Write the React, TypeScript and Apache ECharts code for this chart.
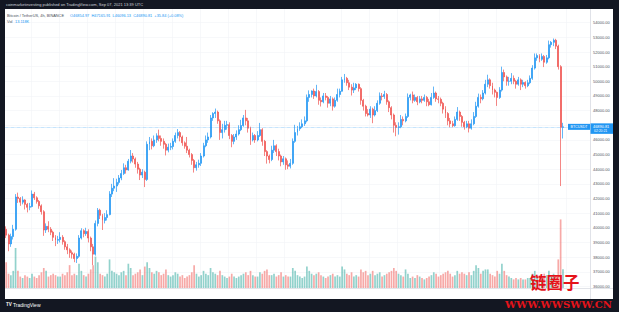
import React, { useEffect, useRef } from "react";
import * as echarts from "echarts";

// ---- data (4h candles, BTC/USDT, Binance) ----
const startTimeUTC = Date.UTC(2021, 6, 30, 4); // first candle: Jul 30 04:00 UTC
const barHours = 4;
const padBars = 11; // empty bars to the right (TradingView right offset)

const firstOpen = 39900;

const closes = [
  39500, 38900, 39400, 39900, 42100,
  42000, 41750, 41900, 41600, 41400, 41450,
  42300, 42050, 41800, 41500, 41100, 39850,
  40100, 39900, 39700, 39350, 39150, 39200,
  39350, 39050, 38700, 38500, 38300, 38200,
  37900, 38050, 39300, 39800, 39600, 39750,
  39300, 38700, 38200, 40300, 41200, 40850,
  40500, 40700, 40900, 42300, 42700, 42850,
  43100, 43400, 43700, 44100, 43950, 44550,
  44900, 44700, 44350, 44000, 43600, 43800,
  43300, 45700, 45900, 45600, 46000, 46280,
  46100, 45900, 45700, 45300, 45500, 45550,
  45900, 46300, 46500, 46200, 45800, 45570,
  45300, 45000, 44600, 44100, 44300, 44400,
  44900, 45600, 46000, 46200, 47500, 47800,
  47900, 47300, 46500, 46700, 47000, 47040,
  46300, 45900, 46200, 46400, 46700, 46980,
  47500, 47300, 46800, 46000, 46300, 46000,
  46300, 46700, 45900, 45200, 44900, 44660,
  45300, 45600, 45200, 44900, 44500, 44710,
  44300, 44200, 44400, 45900, 46500, 46760,
  46900, 47100, 47300, 48900, 49100, 49340,
  49000, 49300, 48700, 48600, 49000, 48900,
  48500, 48800, 48300, 48700, 49100, 49320,
  50100, 50200, 49900, 49600, 49400, 49550,
  49800, 49500, 48700, 48300, 47800, 47700,
  48100, 47700, 48000, 48500, 49000, 48960,
  49100, 48600, 48200, 47700, 47000, 46850,
  46900, 47400, 47300, 47600, 48900, 49070,
  48700, 48900, 48600, 48800, 48700, 48900,
  48600, 48400, 48900, 49200, 48800, 48770,
  48500, 48100, 47800, 47300, 47100, 46970,
  47400, 47900, 47600, 47200, 46900, 47100,
  46800, 47100, 47600, 48300, 48900, 48810,
  49200, 49800, 50100, 49700, 49400, 49250,
  48900, 49400, 50600, 50300, 50000, 50000,
  50200, 50000, 49800, 50100, 49800, 49920,
  49700, 49900, 50200, 50900, 51600, 51760,
  51500, 51700, 51300, 51600, 52500, 52660,
  52800, 52400, 51000, 46854.97, 46890.81,
];

const highs = [
  40100, 39600, 39600, 40200, 42300,
  42400, 42100, 42150, 41950, 41700, 41700,
  42550, 42450, 42150, 41900, 41600, 41200,
  40300, 40450, 40050, 39800, 39500, 39450,
  39700, 39500, 39150, 38900, 38600, 38450,
  38300, 38250, 39500, 39970, 39900, 40000,
  39900, 39400, 38900, 40500, 41350, 41300,
  40950, 41000, 41200, 42500, 43000, 43390,
  43350, 43600, 43950, 44400, 44300, 44700,
  45310, 45100, 44800, 44500, 44100, 44000,
  43900, 45900, 46200, 46100, 46300, 46450,
  46700, 46300, 46100, 45800, 45750, 45800,
  46100, 46500, 46740, 46600, 46300, 45900,
  46200, 45400, 45100, 44700, 44500, 44650,
  45100, 45800, 46300, 46500, 47700, 47890,
  48140, 48000, 47400, 47100, 47300, 47300,
  47200, 46400, 46400, 46650, 47000, 47370,
  47700, 48050, 47500, 46900, 46500, 46400,
  46600, 47160, 46800, 46000, 45300, 45000,
  45600, 46000, 45700, 45400, 45000, 44900,
  44800, 44600, 44700, 46100, 47030, 46950,
  47200, 47400, 47600, 49100, 49380, 49380,
  49500, 49760, 49400, 48900, 49200, 49200,
  49000, 49000, 48900, 48900, 49500, 49500,
  50300, 50500, 50300, 50100, 49800, 49900,
  49875, 49850, 49600, 48800, 48400, 48100,
  48300, 48200, 48300, 48700, 49240, 49200,
  49350, 49200, 48700, 48300, 47800, 47200,
  47200, 47700, 47600, 47800, 49170, 49150,
  49300, 49100, 49000, 49000, 49000, 49100,
  49000, 48800, 49200, 49640, 49300, 49000,
  48890, 48600, 48300, 47900, 47500, 47300,
  47600, 48240, 48000, 47700, 47300, 47300,
  47300, 47400, 47900, 48600, 49160, 49100,
  49400, 50100, 50450, 50200, 49900, 49500,
  49300, 49600, 51000, 50800, 50400, 50300,
  50560, 50400, 50100, 50300, 50200, 50100,
  50000, 50100, 50400, 51100, 51900, 51900,
  51850, 51900, 51800, 51800, 52780, 52750,
  52920, 52900, 52500, 51100, 47165.91,
];

const lows = [
  39300, 38400, 38700, 39200, 39800,
  41700, 41500, 41600, 41250, 41050, 41200,
  41400, 41900, 41650, 41300, 40900, 39450,
  39650, 39700, 39500, 39100, 38750, 38900,
  39000, 38850, 38500, 38200, 37950, 37900,
  37650, 37600, 37950, 39200, 39350, 39450,
  39000, 38400, 37450, 38100, 40100, 40600,
  39850, 40300, 40500, 40850, 42100, 42500,
  42450, 42950, 43250, 43600, 43700, 43900,
  44400, 44450, 44100, 43700, 43260, 43400,
  42780, 43200, 45300, 45350, 45500, 45800,
  45900, 45600, 45400, 44940, 45150, 45300,
  45350, 45800, 46100, 45900, 45600, 45400,
  45100, 44800, 44300, 43770, 43900, 44100,
  44220, 44800, 45500, 45800, 46100, 47300,
  47500, 47100, 46000, 46100, 46500, 46700,
  46050, 45500, 45700, 46000, 46300, 46600,
  46900, 47000, 46500, 45660, 45900, 45800,
  45900, 46200, 45600, 44900, 44380, 44400,
  44550, 45100, 44900, 44600, 44200, 44300,
  43960, 44000, 44050, 44300, 45800, 46300,
  46620, 46800, 46950, 47200, 48600, 48900,
  48800, 48900, 48400, 48280, 48500, 48700,
  48200, 48300, 48000, 48200, 48600, 48900,
  49300, 49900, 49700, 49400, 49030, 49200,
  49400, 49300, 48400, 48000, 47600, 47600,
  47500, 47140, 47600, 47900, 48400, 48700,
  48800, 48400, 47900, 47400, 46500, 46250,
  46360, 46800, 47000, 47200, 47500, 48700,
  48500, 48600, 48370, 48500, 48500, 48600,
  48300, 48300, 48350, 48800, 48600, 48500,
  48300, 47800, 47500, 47000, 46860, 46860,
  46900, 47300, 47300, 46900, 46700, 46800,
  46510, 46700, 47000, 47500, 48200, 48500,
  48700, 49100, 49600, 49500, 49100, 48900,
  48320, 48800, 49300, 50000, 49700, 49700,
  49800, 49800, 49500, 49700, 49400, 49600,
  49500, 49600, 49800, 50100, 50800, 51400,
  51300, 51400, 50970, 51200, 51500, 52300,
  52400, 52200, 50800, 42850, 46096.13,
];

// volume in thousands of BTC
const volumes = [
  18, 10, 9, 12, 28,
  12, 8, 7, 9, 8, 7,
  10, 8, 7, 9, 11, 14,
  12, 8, 9, 10, 9, 8,
  8, 10, 9, 11, 16, 9,
  10, 9, 17, 12, 9, 8,
  10, 13, 16, 22, 18, 10,
  9, 8, 10, 20, 12, 11,
  10, 9, 11, 12, 9, 17,
  14, 9, 10, 11, 13, 9,
  15, 18, 14, 11, 10, 12,
  11, 9, 10, 13, 9, 8,
  9, 11, 10, 8, 9, 7,
  8, 9, 11, 16, 10, 8,
  9, 12, 10, 9, 14, 11,
  10, 9, 12, 9, 8, 7,
  8, 10, 8, 7, 8, 9,
  10, 11, 9, 12, 9, 8,
  8, 11, 10, 12, 13, 9,
  9, 10, 8, 9, 11, 8,
  9, 8, 8, 14, 12, 9,
  8, 7, 8, 15, 12, 10,
  9, 10, 11, 9, 8, 7,
  8, 9, 10, 8, 9, 8,
  15, 13, 10, 9, 11, 8,
  9, 8, 13, 11, 12, 9,
  10, 12, 9, 10, 11, 8,
  9, 10, 11, 12, 14, 12,
  10, 9, 8, 13, 10, 7,
  8, 7, 9, 8, 7, 6,
  7, 8, 9, 11, 10, 8,
  9, 10, 11, 12, 10, 8,
  9, 12, 10, 11, 10, 9,
  11, 9, 12, 16, 14, 10,
  12, 13, 13, 10, 9, 8,
  12, 10, 17, 12, 9, 8,
  7, 6, 7, 6, 7, 6,
  6, 7, 7, 10, 12, 8,
  9, 8, 10, 9, 12, 8,
  10, 9, 20, 48, 13.118,
];

// time-axis tick labels (day -> text)
const timeTickDays = ["08-01", "08-03", "08-05", "08-07", "08-09", "08-11", "08-13", "08-15", "08-17", "08-19", "08-23", "08-25", "08-27", "08-30", "09-01", "09-03", "09-06", "09-08"];
const timeTickTexts = ["Aug", "3", "5", "7", "9", "11", "13", "15", "17", "19", "23", "25", "27", "30", "Sep", "3", "6", "8"];

const legendTitle = "Bitcoin / TetherUS, 4h, BINANCE";
const headerText = "coinmarketinvesting published on TradingView.com, Sep 07, 2021 13:39 UTC";
const countdownText = "02:20:21";

// ---- styling ----
const UP = "#2196f3";
const DOWN = "#ef5350";
const VOL_UP = "rgba(38,166,154,0.5)";
const VOL_DOWN = "rgba(239,83,80,0.5)";
const FRAME = "#131722";
const FONT = "Liberation Sans, Arial, sans-serif";

const pad2 = (n: number) => String(n).padStart(2, "0");

const categories: string[] = [];
for (let i = 0; i < closes.length + padBars; i++) {
  const d = new Date(startTimeUTC + i * barHours * 3600000);
  categories.push(`${pad2(d.getUTCMonth() + 1)}-${pad2(d.getUTCDate())} ${pad2(d.getUTCHours())}`);
}
const tickMap: Record<string, string> = {};
timeTickDays.forEach((d, i) => (tickMap[`${d} 00`] = timeTickTexts[i]));
const isTick = (_idx: number, val: string) => tickMap[val] !== undefined;

const opens = closes.map((_, i) => (i === 0 ? firstOpen : closes[i - 1]));
const candleData = closes.map((c, i) => [opens[i], c, lows[i], highs[i]]);
const volumeData = volumes.map((v, i) => ({
  value: v,
  itemStyle: { color: closes[i] >= opens[i] ? VOL_UP : VOL_DOWN },
}));

const last = closes.length - 1;
const lastClose = closes[last];
const chg = lastClose - closes[last - 1];
const chgPct = (chg / closes[last - 1]) * 100;
const sign = chg >= 0 ? "+" : "−";
const legendValues = [
  `O${opens[last].toFixed(2)}`,
  `H${highs[last].toFixed(2)}`,
  `L${lows[last].toFixed(2)}`,
  `C${lastClose.toFixed(2)}`,
  `${sign}${Math.abs(chg).toFixed(2)} (${sign}${Math.abs(chgPct).toFixed(2)}%)`,
].join("  ");

// price scale geometry: 1000 USDT = 14.65 px, 54000 at y = 22.7
const PX_PER_K = 14.65;
const Y54 = 22.7;
const priceMin = 35000;
const priceMax = 55000;
const gridTop = Y54 - (priceMax - 54000) / 1000 * PX_PER_K;
const gridHeight = (priceMax - priceMin) / 1000 * PX_PER_K;
const lastY = Y54 + (54000 - lastClose) / 1000 * PX_PER_K;
// axis label hidden behind the last-price label box
const hiddenPriceLabel = Math.round(lastClose / 1000) * 1000;

function buildOption() {
  const txt = (x: number, y: number, text: string, fill: string, fontSize: number, extra: any = {}) => ({
    type: "text",
    x,
    y,
    z: 110,
    silent: true,
    style: {
      text,
      fill,
      fontSize,
      fontFamily: FONT,
      textVerticalAlign: "middle",
      verticalAlign: "middle",
      ...extra,
    },
  });
  const graphic: any[] = [
    // dark frame
    { type: "rect", z: 100, silent: true, shape: { x: 0, y: 0, width: 619, height: 9 }, style: { fill: FRAME } },
    { type: "rect", z: 100, silent: true, shape: { x: 0, y: 0, width: 5, height: 312 }, style: { fill: FRAME } },
    { type: "rect", z: 100, silent: true, shape: { x: 613, y: 0, width: 6, height: 312 }, style: { fill: FRAME } },
    { type: "rect", z: 100, silent: true, shape: { x: 0, y: 299, width: 619, height: 13 }, style: { fill: FRAME } },
    // scale separators
    { type: "line", z: 90, silent: true, shape: { x1: 590.5, y1: 9, x2: 590.5, y2: 299 }, style: { stroke: "#d6d9e0", lineWidth: 0.7 } },
    { type: "line", z: 90, silent: true, shape: { x1: 5, y1: 288.5, x2: 613, y2: 288.5 }, style: { stroke: "#d6d9e0", lineWidth: 0.7 } },
    { type: "rect", z: 89, silent: true, shape: { x: 5, y: 289, width: 608, height: 10 }, style: { fill: "#ffffff" } },
    // header
    txt(6, 4.6, headerText, "#d1d4dc", 4),
    // legend
    txt(7, 15, legendTitle, "#4a4e5a", 3.9),
    txt(70, 15, legendValues, UP, 3.9),
    txt(7, 21.5, "Vol", "#4a4e5a", 3.9),
    txt(15, 21.5, `${volumes[last].toFixed(3)}K`, UP, 3.9),
    // symbol tag + last price label
    { type: "rect", z: 105, silent: true, shape: { x: 568, y: lastY - 3, width: 22, height: 6 }, style: { fill: UP } },
    txt(579, lastY, "BTCUSDT", "#ffffff", 3.6, { textAlign: "center", align: "center" }),
    { type: "rect", z: 105, silent: true, shape: { x: 590.5, y: lastY - 3.5, width: 22.5, height: 10.5 }, style: { fill: UP } },
    txt(593, lastY - 0.3, lastClose.toFixed(2), "#ffffff", 3.9),
    txt(594, lastY + 4.3, countdownText, "#ffffff", 3.4),
    // TradingView logo
    txt(6, 304.5, "TV", "#ffffff", 4.5, { fontWeight: "bold" }),
    txt(13, 304.5, "TradingView", "#ffffff", 5),
    // watermark
    txt(530, 281.5, "链圈子", "#e5131a", 16.5, { fontFamily: "Noto Sans CJK SC", fontWeight: "bold" }),
    txt(505, 304.5, "WWW.WWSWW.CN", "#e5131a", 10, { fontFamily: "DejaVu Serif", fontWeight: "bold" }),
  ];

  return {
    animation: false,
    backgroundColor: "#ffffff",
    grid: [
      { left: 5, top: gridTop, width: 585, height: gridHeight },
      { left: 5, top: 188, width: 585, height: 100 },
    ],
    xAxis: [
      {
        type: "category",
        gridIndex: 0,
        data: categories,
        axisLine: { show: false },
        axisTick: { show: false },
        axisLabel: { show: false },
        splitLine: { show: true, interval: isTick, lineStyle: { color: "#f2f3f7", width: 0.6 } },
      },
      {
        type: "category",
        gridIndex: 1,
        data: categories,
        axisLine: { show: false },
        axisTick: { show: false },
        splitLine: { show: false },
        axisLabel: {
          show: true,
          interval: isTick,
          formatter: (v: string) => tickMap[v] ?? "",
          fontSize: 4,
          color: "#50535e",
          fontFamily: FONT,
          margin: 4.5,
        },
      },
    ],
    yAxis: [
      {
        type: "value",
        gridIndex: 0,
        position: "right",
        min: priceMin,
        max: priceMax,
        interval: 1000,
        axisLine: { show: false },
        axisTick: { show: false },
        axisLabel: {
          fontSize: 4,
          color: "#50535e",
          fontFamily: FONT,
          margin: 3,
          align: "left",
          showMinLabel: false,
          showMaxLabel: false,
          formatter: (v: number) => (v === hiddenPriceLabel ? "" : v.toFixed(2)),
        },
        splitLine: { show: true, lineStyle: { color: "#f2f3f7", width: 0.6 } },
      },
      { type: "value", gridIndex: 1, min: 0, max: 70, show: false, splitLine: { show: false } },
    ],
    series: [
      {
        type: "bar",
        name: "Volume",
        xAxisIndex: 1,
        yAxisIndex: 1,
        data: volumeData,
        barWidth: "72%",
      },
      {
        type: "candlestick",
        name: "BTCUSDT",
        xAxisIndex: 0,
        yAxisIndex: 0,
        data: candleData,
        barWidth: "62%",
        itemStyle: {
          color: UP,
          color0: DOWN,
          borderColor: UP,
          borderColor0: DOWN,
          borderWidth: 0.7,
        },
        markLine: {
          silent: true,
          symbol: ["none", "none"],
          label: { show: false },
          lineStyle: { color: UP, type: "dotted", width: 0.6, opacity: 0.7 },
          data: [{ yAxis: lastClose }],
        },
      },
    ],
    graphic,
  };
}

export default function App() {
  const ref = useRef<HTMLDivElement>(null);
  useEffect(() => {
    document.body.style.margin = "0";
    const chart = echarts.init(ref.current!, null, { renderer: "svg" });
    chart.setOption(buildOption() as any);
    return () => chart.dispose();
  }, []);
  return <div ref={ref} style={{ width: 619, height: 312 }} />;
}
